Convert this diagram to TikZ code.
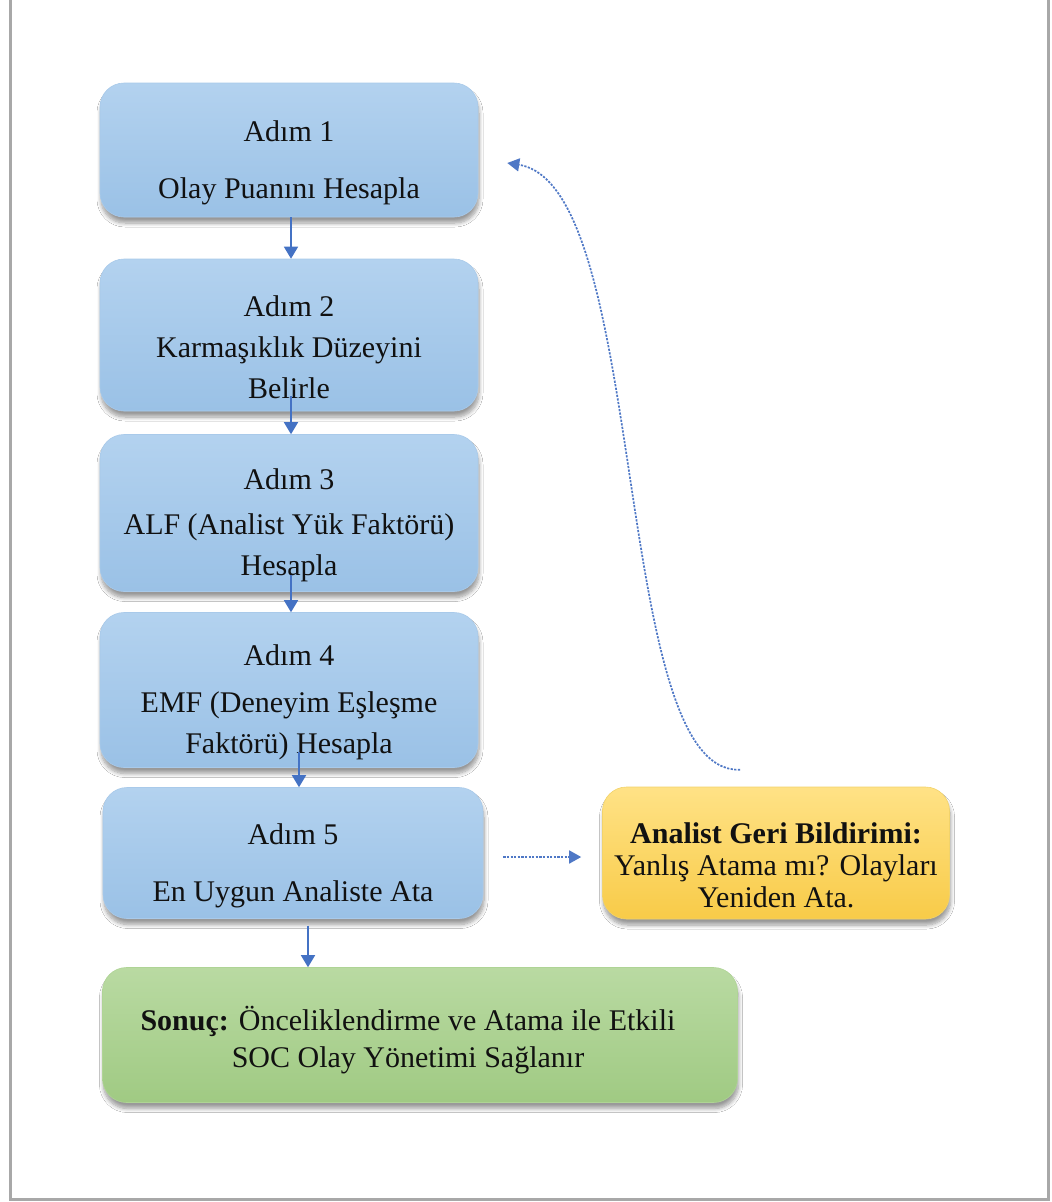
\documentclass[tikz,border=0pt]{standalone}
\usepackage{fontspec}
\setmainfont{Liberation Serif}
\usetikzlibrary{arrows.meta,shadows.blur}
\definecolor{bltop}{HTML}{B3D2EF}
\definecolor{blbot}{HTML}{9AC1E6}
\definecolor{bldraw}{HTML}{A9CAEA}
\definecolor{yltop}{HTML}{FFE286}
\definecolor{ylbot}{HTML}{F8CB48}
\definecolor{yldraw}{HTML}{F2D36A}
\definecolor{grtop}{HTML}{B9DAA2}
\definecolor{grbot}{HTML}{A0CA83}
\definecolor{grdraw}{HTML}{AFD495}
\definecolor{arrblue}{HTML}{4472C4}
\definecolor{dotblue}{HTML}{4F78C6}
\definecolor{txt}{HTML}{111111}
\definecolor{framegray}{HTML}{A8A8A8}
\newcommand{\tallfirst}{\rule{0pt}{46pt}}
\newcommand{\greenfirst}{\rule{0pt}{34pt}}
\begin{document}
\begin{tikzpicture}[x=1pt,y=-1pt,
  stepbox/.style={rectangle, rounded corners=24pt, line width=0.6pt, align=center,
    text=txt, inner sep=0pt, font=\fontsize{30}{41}\selectfont,
    blur shadow={shadow xshift=1pt, shadow yshift=-6pt, shadow blur radius=4pt,
      shadow blur steps=8, shadow opacity=40}},
  bluebox/.style={stepbox, draw=bldraw, top color=bltop, bottom color=blbot,
    minimum width=378pt},
  yellowbox/.style={stepbox, draw=yldraw, top color=yltop, bottom color=ylbot,
    font=\fontsize{30}{32}\selectfont},
  greenbox/.style={stepbox, draw=grdraw, top color=grtop, bottom color=grbot,
    font=\fontsize{30}{37}\selectfont},
  arr/.style={draw=arrblue, line width=1.6pt, -{Triangle[width=14pt,length=12pt]}, fill=arrblue},
  dotarr/.style={draw=dotblue, line width=1.7pt, dash pattern=on 2.2pt off 1.4pt,
    -{Triangle[width=13pt,length=12pt]}},
]
\useasboundingbox (0,0) rectangle (1052,1202);
\fill[white] (0,0) rectangle (1052,1202);
% page frame
\draw[framegray, line width=3pt] (10,-2) -- (10,1199) -- (1048,1199) -- (1048,-2);

% step boxes
\node[bluebox, minimum height=134pt] (b1) at (289,150)
  {\tallfirst Adım 1\\[16pt]Olay Puanını Hesapla};
\node[bluebox, minimum height=152pt] (b2) at (289,335)
  {\tallfirst Adım 2\\Karmaşıklık Düzeyini\\Belirle};
\node[bluebox, minimum height=157pt] (b3) at (289,513)
  {\tallfirst Adım 3\\[4pt]ALF (Analist Yük Faktörü)\\Hesapla};
\node[bluebox, minimum height=155pt] (b4) at (289,690)
  {\tallfirst Adım 4\\[6pt]EMF (Deneyim Eşleşme\\Faktörü) Hesapla};
\node[bluebox, minimum width=380pt, minimum height=131pt] (b5) at (293,853)
  {\tallfirst Adım 5\\[16pt]En Uygun Analiste Ata};
\node[yellowbox, minimum width=347pt, minimum height=132pt] (yb) at (776,853)
  {\tallfirst\textbf{Analist Geri Bildirimi:}\\Yanlış Atama mı? Olayları\\Yeniden Ata.};
\node[greenbox, minimum width=635pt, minimum height=135pt] (g) at (420,1035)
  {\greenfirst\textbf{Sonuç:} Önceliklendirme ve Atama ile Etkili\hspace*{24pt}\\SOC Olay Yönetimi Sağlanır\hspace*{24pt}};

% connectors
\draw[arr] ([xshift=2pt]b1.south) -- ([xshift=2pt]b2.north);
\draw[arr] ([xshift=2pt,yshift=15pt]b2.south) -- ([xshift=2pt]b3.north);
\draw[arr] ([xshift=2pt,yshift=17pt]b3.south) -- ([xshift=2pt]b4.north);
\draw[arr] ([xshift=10pt,yshift=16pt]b4.south) -- ([xshift=6pt]b5.north);
\draw[arr] ([xshift=15pt,yshift=-7pt]b5.south) -- ([xshift=15pt]b5.south |- g.north);
\draw[dotarr] ([shift={(20,4)}]b5.east) -- ([shift={(-21,4)}]yb.west);

% feedback curve
\coordinate (fbs) at ([shift={(-36,-17)}]yb.north);
\coordinate (fbe) at ([shift={(29,13)}]b1.east);
\draw[dotarr] (fbs) .. controls (610,775) and (650,185) .. (fbe);
\end{tikzpicture}
\end{document}
